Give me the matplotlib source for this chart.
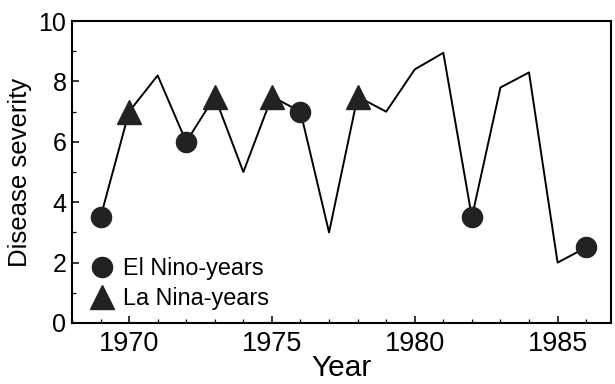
#!/usr/bin/env python3
# -*- coding: utf-8 -*-

import matplotlib
matplotlib.use("Agg")
import matplotlib.pyplot as plt
from matplotlib.ticker import MultipleLocator

plt.rcParams['font.family'] = ['Liberation Sans', 'DejaVu Sans']

# yearly disease severity
years = [1969, 1970, 1971, 1972, 1973, 1974, 1975, 1976, 1977,
         1978, 1979, 1980, 1981, 1982, 1983, 1984, 1985, 1986]
severity = [3.5, 7.0, 8.2, 6.0, 7.5, 5.0, 7.5, 7.0, 3.0,
            7.5, 7.0, 8.4, 8.95, 3.5, 7.8, 8.3, 2.0, 2.5]

el_nino_years = [1969, 1972, 1976, 1982, 1986]
la_nina_years = [1970, 1973, 1975, 1978]

x_ticks = [1970, 1975, 1980, 1985]
y_ticks = [0, 2, 4, 6, 8, 10]

sev_by_year = dict(zip(years, severity))
el_vals = [sev_by_year[y] for y in el_nino_years]
la_vals = [sev_by_year[y] for y in la_nina_years]

fig = plt.figure(figsize=(6.15, 3.84), dpi=100)
ax = fig.add_axes([0.117, 0.159, 0.8765, 0.786])

ax.plot(years, severity, color='black', lw=1.4, zorder=2)
ax.plot(el_nino_years, el_vals, 'o', color='#222222', ms=14.5,
        ls='none', label='El Nino-years', zorder=3)
ax.plot(la_nina_years, la_vals, '^', color='#222222', ms=17,
        ls='none', label='La Nina-years', zorder=3)

ax.set_xlim(1968.0, 1986.87)
ax.set_ylim(0, 10)
ax.set_xticks(x_ticks)
ax.set_yticks(y_ticks)
ax.xaxis.set_minor_locator(MultipleLocator(1))
ax.yaxis.set_minor_locator(MultipleLocator(1))
ax.tick_params(which='major', direction='in', length=5, width=1.1, pad=5)
ax.tick_params(which='minor', direction='in', length=3, width=0.9)
ax.tick_params(axis='x', which='major', labelsize=19.5, pad=6)
ax.tick_params(axis='y', which='major', labelsize=18, pad=4)
for side in ['left', 'bottom', 'top', 'right']:
    ax.spines[side].set_linewidth(1.5)

# x label sits right at the bottom edge, like the original
ax.set_xlabel('Year', fontsize=21.5, va='baseline')
ax.xaxis.set_label_coords(0.5, -0.177)
ax.set_ylabel('Disease severity', fontsize=18.5, labelpad=5)

ax.legend(loc='lower left', bbox_to_anchor=(0.025, 0.028), frameon=False,
          fontsize=16.8, handlelength=1.0, handletextpad=0.4,
          labelspacing=0.3, borderpad=0.2, borderaxespad=0)

fig.savefig('out.png', dpi=100)
